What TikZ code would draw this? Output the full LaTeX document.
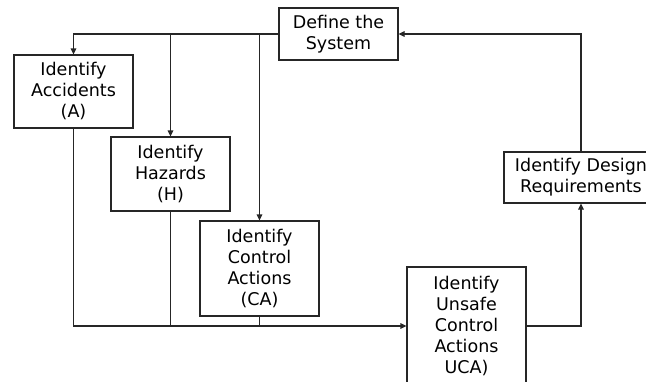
\documentclass[tikz,border=0pt]{standalone}
\usepackage{fontspec}
\setmainfont{DejaVu Sans}
\usetikzlibrary{arrows.meta}
\begin{document}
\begin{tikzpicture}[x=1pt,y=-1pt,
  box/.style={draw=black!85,line width=1.1pt,align=center,inner sep=0pt,font=\fontsize{17.5}{21}\selectfont},
  link/.style={draw=black!85,line width=1.1pt},
  arr/.style={link,-{Triangle[length=6pt,width=5.5pt]}}]
\clip (0,0) rectangle (646,381);
\fill[white] (0,0) rectangle (646,381);
\node[box,minimum width=119pt,minimum height=52pt] (def) at (338.5,34) {Define the\\System};
\node[box,minimum width=119pt,minimum height=73pt] (acc) at (73.5,91.5) {Identify\\Accidents\\(A)};
\node[box,minimum width=119pt,minimum height=74pt] (haz) at (170.5,174) {Identify\\Hazards\\(H)};
\node[box,minimum width=119pt,minimum height=95pt] (ca) at (259.5,268.5) {Identify\\Control\\Actions\\(CA)};
\node[box,minimum width=119pt,minimum height=118pt] (uca) at (466.5,326) {Identify\\Unsafe\\Control\\Actions\\UCA)};
\node[box,minimum width=154pt,minimum height=51pt] (des) at (581,177.5) {Identify Design\\Requirements};
\draw[arr] (def.west) -| (acc.north);
\draw[arr] (haz.north |- def.west) -- (haz.north);
\draw[arr] (ca.north |- def.west) -- (ca.north);
\draw[arr] (acc.south) |- (uca.west);
\draw[link] (haz.south) -- (haz.south |- uca.west);
\draw[link] (ca.south) -- (ca.south |- uca.west);
\draw[arr] (uca.east) -| (des.south);
\draw[arr] (des.north) |- (def.east);
\end{tikzpicture}
\end{document}
